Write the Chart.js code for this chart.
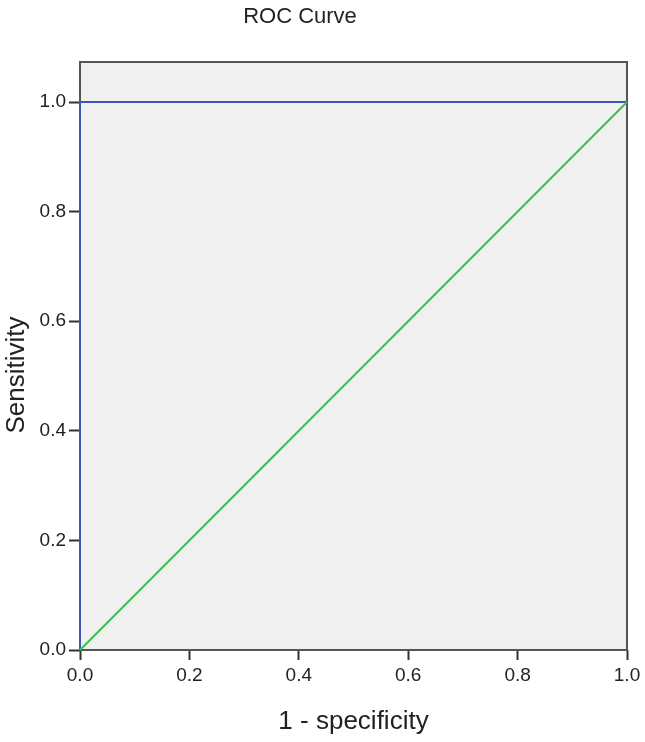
<!DOCTYPE html>
<html>
<head>
<meta charset="utf-8">
<script src="https://cdn.jsdelivr.net/npm/chart.js@4.4.0/dist/chart.umd.min.js"></script>
<style>
html, body { margin: 0; padding: 0; background: #fff; }
</style>
</head>
<body>
<canvas id="rocChart" width="645" height="742"></canvas>
<script>
// curva ROC (1 - especificidade, sensibilidade)
const rocFpr = [0, 0, 1];
const rocTpr = [0, 1, 1];
// linha de referência
const refX = [0, 1];
const refY = [0, 1];
const tickValues = [0, 0.2, 0.4, 0.6, 0.8, 1.0];

const chartTitle = 'ROC Curve';
const xTitle = '1 - specificity';
const yTitle = 'Sensitivity';

const FONT = "'Liberation Sans', Arial, sans-serif";
const TEXT = '#222';

const toPoints = (xs, ys) => xs.map((x, i) => ({ x: x, y: ys[i] }));

// fundo cinza, moldura e textos fora do eixo
const plotFrame = {
  id: 'plotFrame',
  beforeDatasetsDraw(chart) {
    const { ctx, chartArea: a } = chart;
    ctx.save();
    ctx.fillStyle = '#f0f0f0';
    ctx.fillRect(a.left, a.top, a.right - a.left, a.bottom - a.top);
    ctx.strokeStyle = '#555';
    ctx.lineWidth = 2;
    ctx.strokeRect(a.left, a.top, a.right - a.left, a.bottom - a.top);
    ctx.restore();
  },
  afterDraw(chart) {
    const { ctx } = chart;
    ctx.save();
    ctx.fillStyle = TEXT;
    ctx.font = '22px ' + FONT;
    ctx.textAlign = 'center';
    ctx.textBaseline = 'middle';
    ctx.fillText(chartTitle, 300, 17);
    // título do eixo Y (um pouco abaixo do centro, como no original)
    ctx.font = '26px ' + FONT;
    ctx.translate(17, 375);
    ctx.rotate(-Math.PI / 2);
    ctx.fillText(yTitle, 0, 0);
    ctx.restore();
  }
};

const tickFmt = v => Number(v).toFixed(1);
const keepTicks = scale => {
  scale.ticks = tickValues.map(v => ({ value: v }));
};

new Chart(document.getElementById('rocChart'), {
  type: 'scatter',
  data: {
    datasets: [
      {
        label: 'Reference',
        data: toPoints(refX, refY),
        showLine: true,
        borderColor: '#3cbf4e',
        borderWidth: 2,
        pointRadius: 0,
        clip: false
      },
      {
        label: 'ROC',
        data: toPoints(rocFpr, rocTpr),
        showLine: true,
        borderColor: '#3f55b5',
        borderWidth: 2,
        pointRadius: 0,
        clip: false
      }
    ]
  },
  options: {
    responsive: false,
    animation: false,
    layout: { padding: { top: 62, right: 18, left: 0, bottom: 0 } },
    plugins: {
      legend: { display: false },
      tooltip: { enabled: false },
      title: { display: false }
    },
    scales: {
      x: {
        type: 'linear',
        min: 0,
        max: 1,
        afterBuildTicks: keepTicks,
        afterFit: s => { s.height = 92; },
        grid: { drawOnChartArea: false, drawTicks: true, tickLength: 10, tickColor: '#333', tickWidth: 2 },
        border: { display: false },
        ticks: { callback: tickFmt, color: TEXT, font: { family: FONT, size: 19 }, padding: 4, maxRotation: 0 },
        title: { display: true, text: xTitle, color: TEXT, font: { family: FONT, size: 26 }, padding: { top: 0, bottom: 5 } }
      },
      y: {
        type: 'linear',
        min: 0,
        max: 1.073,
        afterBuildTicks: keepTicks,
        afterFit: s => { s.width = 80; },
        grid: { drawOnChartArea: false, drawTicks: true, tickLength: 11, tickColor: '#333', tickWidth: 2 },
        border: { display: false },
        ticks: { callback: tickFmt, color: TEXT, font: { family: FONT, size: 19 }, padding: 3 },
        title: { display: false }
      }
    }
  },
  plugins: [plotFrame]
});
</script>
</body>
</html>
